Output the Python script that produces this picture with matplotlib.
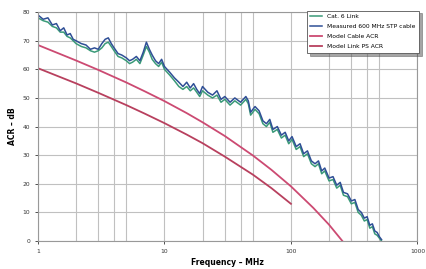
#!/usr/bin/env python
# -*- coding: utf-8 -*

import matplotlib
matplotlib.use("Agg")
import matplotlib.pyplot as plt
from matplotlib.ticker import FixedLocator, NullFormatter

# measured curves (MHz, dB)
meas_freq = [1, 1.1, 1.2, 1.3, 1.4, 1.5, 1.6, 1.7, 1.8, 1.9, 2.0, 2.2, 2.4, 2.6, 2.8,
             3.0, 3.2, 3.4, 3.6, 3.8, 4.0, 4.3, 4.6, 5.0, 5.3, 5.6, 6.0, 6.4, 6.8,
             7.2, 7.6, 8.0, 8.5, 9.0, 9.5, 10, 11, 12, 13, 14, 15, 16, 17, 18, 19,
             20, 22, 24, 26, 28, 30, 33, 36, 40, 44, 46, 48, 52, 56, 60, 64, 68,
             72, 78, 84, 90, 96, 102, 110, 118, 126, 135, 145, 155, 165, 175, 185,
             200, 215, 230, 245, 260, 280, 300, 320, 340, 360, 380, 400, 420, 440,
             460, 480, 500, 520]
meas_blue = [79, 77.5, 78, 75.5, 76, 73.5, 74.5, 72, 72.5, 70.5, 70, 69, 68.5, 67,
             67.5, 67, 69, 70.5, 71, 69, 67.5, 65.5, 65, 64, 63, 63.5, 64.5, 63, 66,
             69.5, 67, 65, 63, 62, 63.5, 61, 59, 57, 55.5, 54, 55.5, 53.5, 55, 53,
             51.5, 54, 52, 51, 52.5, 49.5, 50.5, 48.5, 50, 48.5, 50.5, 49, 45, 47,
             45.5, 42, 41, 42.5, 39, 40, 37, 38, 35, 36.5, 33, 34, 30.5, 31.5, 28,
             27, 28, 24.5, 25.5, 22, 22.5, 19.5, 20.5, 17, 16.5, 14, 14.5, 11, 10,
             8, 8.5, 5.5, 6, 3.5, 3, 1.5, 0.5]
meas_green = [78, 77, 76.5, 75, 74.5, 73, 73, 71.5, 71, 70, 69, 68, 67.5, 66.5,
              66, 66.5, 67.5, 69, 69.5, 68, 66.5, 64.5, 64, 63, 62, 62.5, 63.5, 62,
              65, 68, 66, 63.5, 62, 61, 62.5, 60, 58, 56, 54, 53, 54, 52.5, 53.5,
              52, 50.5, 52.5, 51, 50, 51, 48.5, 49.5, 47.5, 49, 47.5, 49.5, 48, 44,
              46, 44.5, 41, 40, 41.5, 38, 39, 36, 37, 34, 35.5, 32, 33, 29.5, 30.5,
              27, 26, 27, 23.5, 24.5, 21, 21.5, 18.5, 19.5, 16, 15.5, 13, 13.5, 10,
              9, 7, 7.5, 4.5, 5, 2.5, 2, 1, 0]

# model curves (MHz, dB)
cable_freq = [1, 2, 3, 5, 7, 10, 15, 20, 30, 50, 70, 100, 150, 200, 255]
cable_acr = [68.5, 63.1, 59.8, 55.4, 52.3, 48.9, 44.7, 41.5, 36.7, 29.9, 24.9,
             19.1, 11.6, 5.7, 0]
link_freq = [1, 2, 3, 5, 7, 10, 15, 20, 30, 50, 70, 100]
link_acr = [60.4, 55.1, 51.8, 47.5, 44.5, 41.2, 37.2, 34.2, 29.5, 23.2, 18.5, 13.0]

labels = ["Cat. 6 Link", "Measured 600 MHz STP cable", "Model Cable ACR",
          "Model Link PS ACR"]

fig = plt.figure(figsize=(4.26, 2.69), dpi=100)
ax = fig.add_axes([0.089, 0.104, 0.891, 0.851])

ax.plot(meas_freq, meas_green, color="#3a9a78", lw=1.1, label=labels[0])
ax.plot(meas_freq, meas_blue, color="#2f4f96", lw=1.1, label=labels[1])
ax.plot(cable_freq, cable_acr, color="#cc4a72", lw=1.3, label=labels[2])
ax.plot(link_freq, link_acr, color="#b8405e", lw=1.3, label=labels[3])

ax.set_xscale("log")
ax.set_xlim(1, 1000)
ax.set_ylim(0, 80)
ax.set_yticks(range(0, 81, 10))
ax.set_xticks([1, 10, 100, 1000])
ax.set_xticklabels(["1", "10", "100", "1000"])
minor = [m * d for d in (1, 10, 100) for m in (2, 3, 4, 5)]
ax.xaxis.set_minor_locator(FixedLocator(minor))
ax.xaxis.set_minor_formatter(NullFormatter())
ax.grid(True, which="both", color="#c0c0c0", lw=0.8)
ax.set_axisbelow(True)
ax.tick_params(labelsize=4.3, length=2, colors="#333333", width=0.6)
ax.tick_params(which="minor", length=0)
for s in ax.spines.values():
    s.set_color("#999999")
    s.set_linewidth(0.8)

ax.set_xlabel("Frequency – MHz", fontsize=5.5, fontweight="bold", labelpad=3)
ax.set_ylabel("ACR – dB", fontsize=5.5, fontweight="bold", labelpad=4)

leg = ax.legend(loc="upper right", fontsize=4.3, frameon=True, fancybox=False,
                shadow=True, handlelength=2.0, borderpad=0.6, labelspacing=0.8,
                bbox_to_anchor=(1.012, 1.02))
leg.get_frame().set_edgecolor("#555555")
leg.get_frame().set_linewidth(0.6)

fig.savefig("out.png", dpi=100)
